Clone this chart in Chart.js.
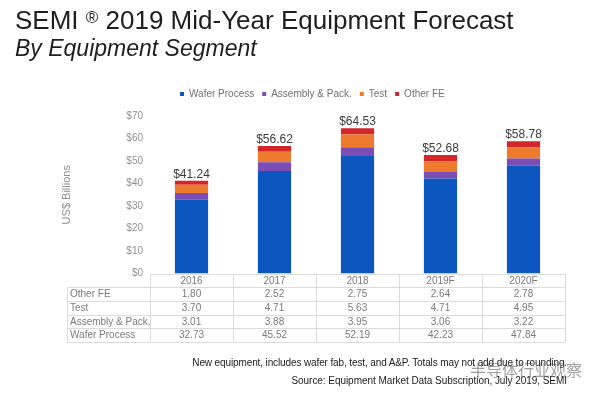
<!DOCTYPE html>
<html>
<head>
<meta charset="utf-8">
<script src="https://cdn.jsdelivr.net/npm/chart.js@4/dist/chart.umd.min.js"></script>
<style>
  body { margin: 0; background: #fff; }
  #wrap { position: relative; width: 600px; height: 397px; overflow: hidden; }
  #myChart { position: absolute; left: 0; top: 0; }
  .txt { position: absolute; white-space: nowrap; font-family: "Liberation Sans", Arial, sans-serif; }
  #title { left: 15px; top: 7px; font-size: 26px; line-height: 26px; color: #1e1e1e; }
  #title span { font-size: 17px; vertical-align: top; position: relative; top: -2px; }
  #subtitle { left: 15px; top: 37px; font-size: 23px; line-height: 23px; font-style: italic; color: #1e1e1e; }
  .note { right: 33px; font-size: 10px; line-height: 10px; color: #1a1a1a; }
  #note1 { top: 358px; letter-spacing: -0.12px; }
  #note2 { top: 376px; letter-spacing: -0.05px; }
  #mark { left: 470px; top: 361px; font-family: "Noto Sans CJK SC", sans-serif; font-size: 16px; line-height: 16px; color: rgba(80,80,80,0.55); }
</style>
</head>
<body>
<div id="wrap">
  <canvas id="myChart" width="600" height="397"></canvas>
  <div class="txt" id="title">SEMI <span>®</span> 2019 Mid-Year Equipment Forecast</div>
  <div class="txt" id="subtitle">By Equipment Segment</div>
  <div class="txt note" id="note1">New equipment, includes wafer fab, test, and A&amp;P. Totals may not add due to rounding.</div>
  <div class="txt note" id="note2">Source: Equipment Market Data Subscription, July 2019, SEMI</div>
  <div class="txt" id="mark">半导体行业观察</div>
</div>
<script>
var years = ["2016", "2017", "2018", "2019F", "2020F"];
var waferProcess = [32.73, 45.52, 52.19, 42.23, 47.84];
var assemblyPack = [3.01, 3.88, 3.95, 3.06, 3.22];
var test = [3.70, 4.71, 5.63, 4.71, 4.95];
var otherFE = [1.80, 2.52, 2.75, 2.64, 2.78];
var totals = [41.24, 56.62, 64.53, 52.68, 58.78];
var yTicks = [0, 10, 20, 30, 40, 50, 60, 70];

var FONT = '"Liberation Sans", Arial, sans-serif';

// totals above each stack
var totalLabels = {
  id: 'totalLabels',
  afterDatasetsDraw: function(chart) {
    var ctx = chart.ctx;
    var ys = chart.scales.y;
    var xs = chart.scales.x;
    ctx.save();
    ctx.font = '12px ' + FONT;
    ctx.fillStyle = '#3a3a3a';
    ctx.textAlign = 'center';
    ctx.textBaseline = 'alphabetic';
    for (var i = 0; i < years.length; i++) {
      var sum = 0;
      chart.data.datasets.forEach(function(ds) { sum += ds.data[i]; });
      ctx.fillText('$' + totals[i].toFixed(2), xs.getPixelForValue(i), ys.getPixelForValue(sum) - 3);
    }
    ctx.restore();
  }
};

// data table under the plot
var dataTable = {
  id: 'dataTable',
  afterDraw: function(chart) {
    var ctx = chart.ctx;
    var area = chart.chartArea;
    var xs = chart.scales.x;
    var rowH = 13.7;
    var top = area.bottom;
    var labelLeft = 67;
    var colW = (area.right - area.left) / years.length;
    var rows = chart.data.datasets.slice().reverse();
    var bottom = top + rowH * (rows.length + 1);

    ctx.save();
    ctx.strokeStyle = '#dcdcdc';
    ctx.lineWidth = 1;
    ctx.beginPath();
    ctx.moveTo(area.left, Math.round(top) + 0.5);
    ctx.lineTo(area.right, Math.round(top) + 0.5);
    for (var r = 1; r <= rows.length + 1; r++) {
      var yy = Math.round(top + r * rowH) + 0.5;
      ctx.moveTo(labelLeft, yy);
      ctx.lineTo(area.right, yy);
    }
    ctx.moveTo(labelLeft + 0.5, Math.round(top + rowH));
    ctx.lineTo(labelLeft + 0.5, Math.round(bottom));
    for (var k = 0; k <= years.length; k++) {
      var xx = Math.round(area.left + k * colW) + 0.5;
      ctx.moveTo(xx, Math.round(top));
      ctx.lineTo(xx, Math.round(bottom));
    }
    ctx.stroke();

    ctx.font = '10px ' + FONT;
    ctx.fillStyle = '#7a7a7a';
    ctx.textBaseline = 'middle';
    ctx.textAlign = 'center';
    years.forEach(function(yr, i) {
      ctx.fillText(yr, xs.getPixelForValue(i), top + rowH / 2 + 0.5);
    });
    rows.forEach(function(ds, r) {
      var cy = top + (r + 1.5) * rowH + 0.5;
      ctx.textAlign = 'left';
      ctx.fillText(ds.label, labelLeft + 3, cy);
      ctx.textAlign = 'center';
      ds.data.forEach(function(v, i) {
        ctx.fillText(v.toFixed(2), xs.getPixelForValue(i), cy);
      });
    });
    ctx.restore();
  }
};

// put the legend where the original has it
var legendSpot = {
  id: 'legendSpot',
  afterLayout: function(chart) {
    var lg = chart.legend;
    lg.left = 180 - 8;
    lg.right = 600;
    lg.top = 81;
  }
};

var ctx = document.getElementById('myChart').getContext('2d');
var chart = new Chart(ctx, {
  type: 'bar',
  data: {
    labels: years,
    datasets: [
      { label: 'Wafer Process', data: waferProcess, backgroundColor: '#0c56c0' },
      { label: 'Assembly & Pack.', data: assemblyPack, backgroundColor: '#7b4db5' },
      { label: 'Test', data: test, backgroundColor: '#ee7a2e' },
      { label: 'Other FE', data: otherFE, backgroundColor: '#d3262b' }
    ]
  },
  options: {
    responsive: false,
    animation: false,
    devicePixelRatio: 1,
    layout: { padding: { left: 56, right: 35, top: 90, bottom: 123.5 } },
    datasets: { bar: { categoryPercentage: 1, barPercentage: 0.4, borderWidth: 0 } },
    plugins: {
      legend: {
        position: 'top',
        align: 'start',
        labels: {
          boxWidth: 4, boxHeight: 4, padding: 8,
          color: '#707070',
          font: { family: FONT, size: 10 }
        }
      },
      tooltip: { enabled: false }
    },
    scales: {
      x: { stacked: true, display: false },
      y: {
        stacked: true,
        min: 0, max: 70,
        afterFit: function(scale) { scale.width = 94; },
        afterBuildTicks: function(scale) {
          scale.ticks = yTicks.map(function(v) { return { value: v }; });
        },
        grid: { display: false, drawTicks: false },
        border: { display: false },
        ticks: {
          padding: 7,
          color: '#909090',
          font: { family: FONT, size: 10 },
          callback: function(v) { return '$' + v; }
        },
        title: {
          display: true,
          text: 'US$ Billions',
          color: '#909090',
          font: { family: FONT, size: 11 }
        }
      }
    }
  },
  plugins: [totalLabels, dataTable, legendSpot]
});

// pin the top of the plot to the $70 line of the original
var shift = 116 - chart.chartArea.top;
if (Math.abs(shift) > 0.1) {
  chart.options.layout.padding.top += shift;
  chart.update();
}
</script>
</body>
</html>
